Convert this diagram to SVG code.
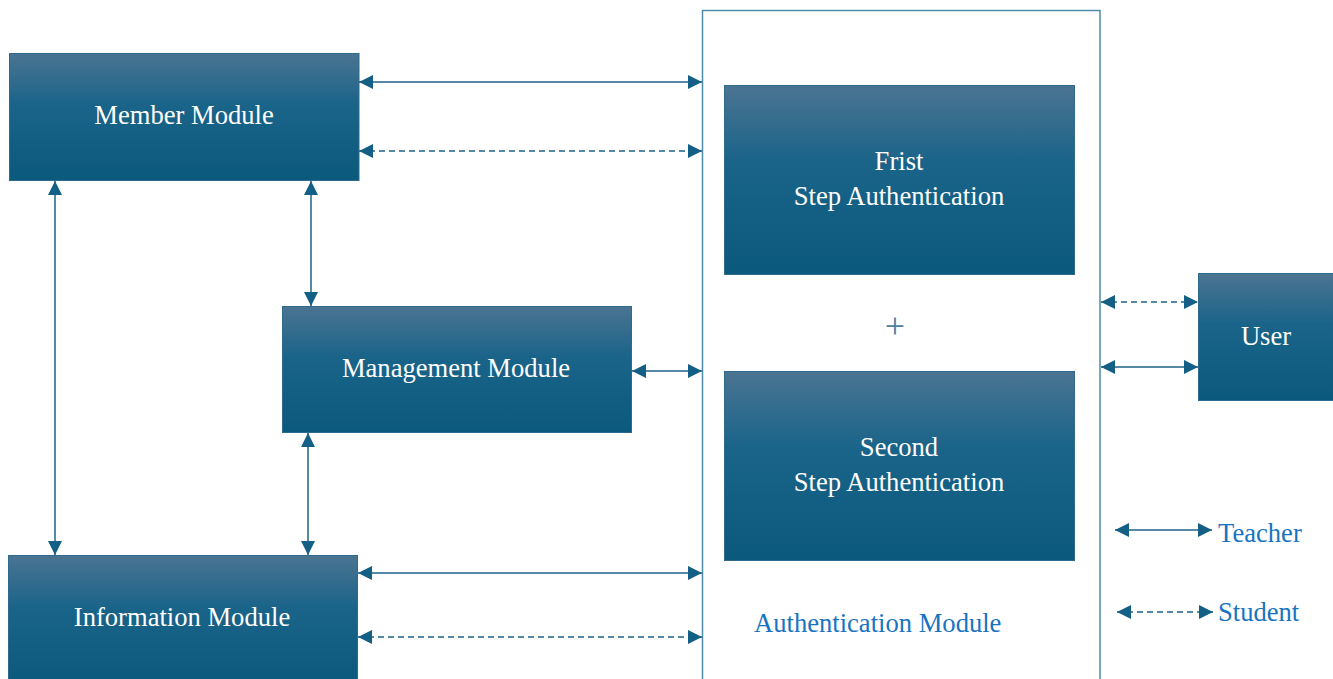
<svg xmlns="http://www.w3.org/2000/svg" width="1333" height="679" viewBox="0 0 1333 679">
  <defs>
    <linearGradient id="boxFill" x1="0" y1="0" x2="0" y2="1">
      <stop offset="0" stop-color="#4b7492"/>
      <stop offset="0.4" stop-color="#1a6489"/>
      <stop offset="1" stop-color="#0b597d"/>
    </linearGradient>
    <marker id="head" viewBox="0 0 14 14" markerWidth="14" markerHeight="14" refX="14" refY="7" orient="auto-start-reverse" markerUnits="userSpaceOnUse">
      <path d="M0,0 L14,7 L0,14 Z" fill="#135f85"/>
    </marker>
    <style>
      .box { fill: url(#boxFill); stroke: #2f6a8c; stroke-width: 1; }
      .label { font-family: "Liberation Serif", "Times New Roman", serif; font-size: 26.6px; fill: #ffffff; text-anchor: middle; }
      .blue { font-family: "Liberation Serif", "Times New Roman", serif; font-size: 26.6px; fill: #1874c0; }
      .link { stroke: #1d6287; stroke-width: 1.5; fill: none; marker-start: url(#head); marker-end: url(#head); }
      .dash { stroke-dasharray: 6 4; }
    </style>
  </defs>

  <rect width="1333" height="679" fill="#ffffff"/>

  <!-- Authentication container -->
  <g id="auth-module">
    <rect x="702.5" y="10.5" width="397.5" height="680" fill="none" stroke="#4f8aa8" stroke-width="1.5"/>
    <text class="blue" x="754" y="632">Authentication Module</text>
    <text x="895" y="338" font-family="Liberation Serif, serif" font-size="36" fill="#4d80a1" text-anchor="middle">+</text>
  </g>

  <g id="member-module">
    <rect class="box" x="9.5" y="53.5" width="349.5" height="127"/>
    <text class="label" x="184" y="124">Member Module</text>
  </g>

  <g id="management-module">
    <rect class="box" x="282.5" y="306.5" width="349" height="126"/>
    <text class="label" x="456" y="377">Management Module</text>
  </g>

  <g id="information-module">
    <rect class="box" x="8.5" y="555.5" width="349" height="130"/>
    <text class="label" x="182" y="626">Information Module</text>
  </g>

  <g id="first-step">
    <rect class="box" x="724.5" y="85.5" width="350" height="189"/>
    <text class="label" x="899" y="170">Frist</text>
    <text class="label" x="899" y="205">Step Authentication</text>
  </g>

  <g id="second-step">
    <rect class="box" x="724.5" y="371.5" width="350" height="189"/>
    <text class="label" x="899" y="456">Second</text>
    <text class="label" x="899" y="491">Step Authentication</text>
  </g>

  <g id="user">
    <rect class="box" x="1198.5" y="273.5" width="136" height="127"/>
    <text class="label" x="1266" y="345">User</text>
  </g>

  <g id="legend">
    <text class="blue" x="1218" y="542">Teacher</text>
    <text class="blue" x="1218" y="621">Student</text>
  </g>

  <!-- Connectors -->
  <g id="connectors">
    <line class="link" x1="359" y1="82" x2="702" y2="82"/>
    <line class="link dash" x1="359" y1="151" x2="702" y2="151"/>
    <line class="link" x1="632" y1="371" x2="702" y2="371"/>
    <line class="link" x1="358" y1="573" x2="702" y2="573"/>
    <line class="link dash" x1="358" y1="637" x2="702" y2="637"/>
    <line class="link" x1="55" y1="181" x2="55" y2="555"/>
    <line class="link" x1="311" y1="181" x2="311" y2="306"/>
    <line class="link" x1="308" y1="433" x2="308" y2="555"/>
    <line class="link dash" x1="1101" y1="302" x2="1198" y2="302"/>
    <line class="link" x1="1101" y1="367" x2="1198" y2="367"/>
    <line class="link" x1="1115" y1="530" x2="1212" y2="530"/>
    <line class="link dash" x1="1117" y1="612" x2="1213" y2="612"/>
  </g>
</svg>
